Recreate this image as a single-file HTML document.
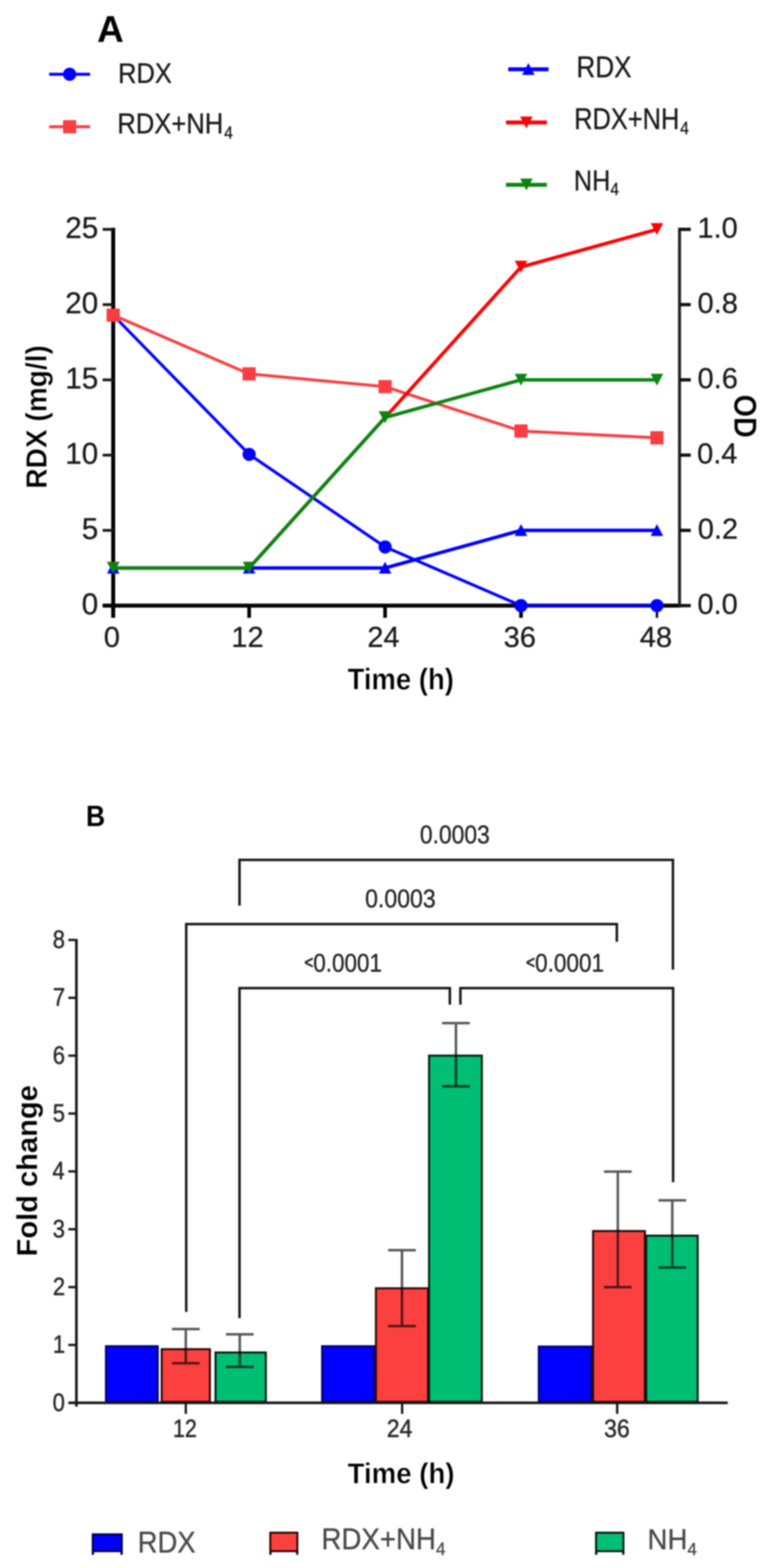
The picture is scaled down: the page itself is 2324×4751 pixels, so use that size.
<!DOCTYPE html>
<html lang="en"><head><meta charset="utf-8"><title>Figure: RDX degradation, OD and fold change</title>
<style>
html,body{margin:0;padding:0;background:#fff;}
body{width:2324px;height:4751px;overflow:hidden;}
svg{display:block;font-family:"Liberation Sans",Arial,Helvetica,sans-serif;filter:blur(2.2px);}
</style></head><body>
<svg width="2324" height="4751" viewBox="0 0 2324 4751">
<rect width="2324" height="4751" fill="#fff"/>
<text transform="translate(294.20 127.00) scale(0.9874 1)" font-size="113.37" font-weight="bold" fill="#000">A</text>
<line x1="149.0" y1="225.0" x2="273.0" y2="225.0" stroke="#0000ff" stroke-width="9.0" stroke-linecap="butt"/>
<circle cx="211.0" cy="225.0" r="20.0" fill="#0000ff"/>
<text transform="translate(357.63 251.00) scale(0.9004 1)" font-size="85.76" font-weight="normal" fill="#1a1a1a" stroke="#1a1a1a" stroke-width="0.9" stroke-linejoin="round">RDX</text>
<line x1="149.0" y1="384.0" x2="273.0" y2="384.0" stroke="#f83e42" stroke-width="9.0" stroke-linecap="butt"/>
<rect x="191.0" y="364.0" width="40.0" height="40.0" fill="#f83e42"/>
<text transform="translate(355.61 404.00) scale(0.8885 1)" font-size="87.21" font-weight="normal" fill="#1a1a1a" stroke="#1a1a1a" stroke-width="0.9" stroke-linejoin="round">RDX+NH<tspan font-size="54.1" dy="16.0" dx="3.0">4</tspan></text>
<line x1="1540.0" y1="210.0" x2="1662.0" y2="210.0" stroke="#0000ff" stroke-width="12.0" stroke-linecap="butt"/>
<polygon points="1601.0,191.0 1620.0,227.0 1582.0,227.0" fill="#0000ff"/>
<text transform="translate(1746.47 234.00) scale(0.8789 1)" font-size="90.12" font-weight="normal" fill="#1a1a1a" stroke="#1a1a1a" stroke-width="0.9" stroke-linejoin="round">RDX</text>
<line x1="1533.0" y1="371.0" x2="1657.0" y2="371.0" stroke="#ff0000" stroke-width="12.0" stroke-linecap="butt"/>
<polygon points="1576.0,353.0 1614.0,353.0 1595.0,389.0" fill="#ff0000"/>
<text transform="translate(1739.65 391.00) scale(0.8542 1)" font-size="90.12" font-weight="normal" fill="#1a1a1a" stroke="#1a1a1a" stroke-width="0.9" stroke-linejoin="round">RDX+NH<tspan font-size="55.9" dy="16.0" dx="3.0">4</tspan></text>
<line x1="1533.0" y1="560.0" x2="1657.0" y2="560.0" stroke="#0b8412" stroke-width="12.0" stroke-linecap="butt"/>
<polygon points="1576.0,541.0 1614.0,541.0 1595.0,577.0" fill="#0b8412"/>
<text transform="translate(1738.68 577.00) scale(0.8779 1)" font-size="87.21" font-weight="normal" fill="#1a1a1a" stroke="#1a1a1a" stroke-width="0.9" stroke-linejoin="round">NH<tspan font-size="54.1" dy="14.0" dx="0.0">4</tspan></text>
<line x1="343.0" y1="690.0" x2="343.0" y2="1872.0" stroke="#000" stroke-width="12.0" stroke-linecap="butt"/>
<line x1="311.0" y1="1835.0" x2="2062.0" y2="1835.0" stroke="#000" stroke-width="12.0" stroke-linecap="butt"/>
<line x1="311.0" y1="1607.0" x2="343.0" y2="1607.0" stroke="#1a1a1a" stroke-width="8.5" stroke-linecap="butt"/>
<line x1="311.0" y1="1379.0" x2="343.0" y2="1379.0" stroke="#1a1a1a" stroke-width="8.5" stroke-linecap="butt"/>
<line x1="311.0" y1="1151.0" x2="343.0" y2="1151.0" stroke="#1a1a1a" stroke-width="8.5" stroke-linecap="butt"/>
<line x1="311.0" y1="923.0" x2="343.0" y2="923.0" stroke="#1a1a1a" stroke-width="8.5" stroke-linecap="butt"/>
<line x1="311.0" y1="695.0" x2="343.0" y2="695.0" stroke="#1a1a1a" stroke-width="8.5" stroke-linecap="butt"/>
<line x1="754.9" y1="1835.0" x2="754.9" y2="1872.0" stroke="#000" stroke-width="11.0" stroke-linecap="butt"/>
<line x1="1166.8" y1="1835.0" x2="1166.8" y2="1872.0" stroke="#000" stroke-width="11.0" stroke-linecap="butt"/>
<line x1="1578.6" y1="1835.0" x2="1578.6" y2="1872.0" stroke="#000" stroke-width="11.0" stroke-linecap="butt"/>
<line x1="1990.5" y1="1835.0" x2="1990.5" y2="1872.0" stroke="#000" stroke-width="7.0" stroke-linecap="butt"/>
<line x1="2059.0" y1="690.0" x2="2059.0" y2="1841.0" stroke="#222" stroke-width="9.0" stroke-linecap="butt"/>
<line x1="2059.0" y1="1835.0" x2="2093.0" y2="1835.0" stroke="#111" stroke-width="10.0" stroke-linecap="butt"/>
<line x1="2059.0" y1="1607.0" x2="2093.0" y2="1607.0" stroke="#111" stroke-width="10.0" stroke-linecap="butt"/>
<line x1="2059.0" y1="1379.0" x2="2093.0" y2="1379.0" stroke="#111" stroke-width="10.0" stroke-linecap="butt"/>
<line x1="2059.0" y1="1151.0" x2="2093.0" y2="1151.0" stroke="#111" stroke-width="10.0" stroke-linecap="butt"/>
<line x1="2059.0" y1="923.0" x2="2093.0" y2="923.0" stroke="#111" stroke-width="10.0" stroke-linecap="butt"/>
<line x1="2059.0" y1="695.0" x2="2093.0" y2="695.0" stroke="#111" stroke-width="10.0" stroke-linecap="butt"/>
<polyline points="343.0,954.9 754.9,1376.7 1166.8,1657.2 1578.6,1835.0 1990.5,1835.0" fill="none" stroke="#0000ff" stroke-width="9.0" stroke-linejoin="round"/>
<circle cx="343.0" cy="954.9" r="20.0" fill="#0000ff"/>
<circle cx="754.9" cy="1376.7" r="20.0" fill="#0000ff"/>
<circle cx="1166.8" cy="1657.2" r="20.0" fill="#0000ff"/>
<circle cx="1578.6" cy="1835.0" r="20.0" fill="#0000ff"/>
<circle cx="1990.5" cy="1835.0" r="20.0" fill="#0000ff"/>
<polyline points="343.0,954.9 754.9,1132.8 1166.8,1171.5 1578.6,1306.0 1990.5,1326.6" fill="none" stroke="#f83e42" stroke-width="9.0" stroke-linejoin="round"/>
<rect x="323.0" y="934.9" width="40.0" height="40.0" fill="#f83e42"/>
<rect x="734.9" y="1112.8" width="40.0" height="40.0" fill="#f83e42"/>
<rect x="1146.8" y="1151.5" width="40.0" height="40.0" fill="#f83e42"/>
<rect x="1558.6" y="1286.0" width="40.0" height="40.0" fill="#f83e42"/>
<rect x="1970.5" y="1306.6" width="40.0" height="40.0" fill="#f83e42"/>
<polyline points="343.0,1721.0 754.9,1721.0 1166.8,1721.0 1578.6,1607.0 1990.5,1607.0" fill="none" stroke="#0000ff" stroke-width="10.5" stroke-linejoin="round"/>
<polygon points="343.0,1702.0 362.0,1738.0 324.0,1738.0" fill="#0000ff"/>
<polygon points="754.9,1702.0 773.9,1738.0 735.9,1738.0" fill="#0000ff"/>
<polygon points="1166.8,1702.0 1185.8,1738.0 1147.8,1738.0" fill="#0000ff"/>
<polygon points="1578.6,1588.0 1597.6,1624.0 1559.6,1624.0" fill="#0000ff"/>
<polygon points="1990.5,1588.0 2009.5,1624.0 1971.5,1624.0" fill="#0000ff"/>
<polyline points="343.0,1721.0 754.9,1721.0 1166.8,1265.0 1578.6,809.0 1990.5,695.0" fill="none" stroke="#ff0000" stroke-width="10.5" stroke-linejoin="round"/>
<polygon points="324.0,1702.0 362.0,1702.0 343.0,1738.0" fill="#ff0000"/>
<polygon points="735.9,1702.0 773.9,1702.0 754.9,1738.0" fill="#ff0000"/>
<polygon points="1147.8,1246.0 1185.8,1246.0 1166.8,1282.0" fill="#ff0000"/>
<polygon points="1559.6,790.0 1597.6,790.0 1578.6,826.0" fill="#ff0000"/>
<polygon points="1971.5,676.0 2009.5,676.0 1990.5,712.0" fill="#ff0000"/>
<polyline points="343.0,1721.0 754.9,1721.0 1166.8,1265.0 1578.6,1151.0 1990.5,1151.0" fill="none" stroke="#0b8412" stroke-width="10.5" stroke-linejoin="round"/>
<polygon points="324.0,1702.5 362.0,1702.5 343.0,1738.5" fill="#0b8412"/>
<polygon points="735.9,1702.5 773.9,1702.5 754.9,1738.5" fill="#0b8412"/>
<polygon points="1147.8,1246.5 1185.8,1246.5 1166.8,1282.5" fill="#0b8412"/>
<polygon points="1559.6,1132.5 1597.6,1132.5 1578.6,1168.5" fill="#0b8412"/>
<polygon points="1971.5,1132.5 2009.5,1132.5 1990.5,1168.5" fill="#0b8412"/>
<text transform="translate(247.43 1861.00) scale(1.0000 1)" font-size="90.00" fill="#1a1a1a" stroke="#1a1a1a" stroke-width="0.8" stroke-linejoin="round">0</text>
<text transform="translate(247.65 1633.00) scale(1.0000 1)" font-size="90.00" fill="#1a1a1a" stroke="#1a1a1a" stroke-width="0.8" stroke-linejoin="round">5</text>
<text transform="translate(197.47 1405.00) scale(1.0000 1)" font-size="90.00" fill="#1a1a1a" stroke="#1a1a1a" stroke-width="0.8" stroke-linejoin="round">10</text>
<text transform="translate(197.70 1177.00) scale(1.0000 1)" font-size="90.00" fill="#1a1a1a" stroke="#1a1a1a" stroke-width="0.8" stroke-linejoin="round">15</text>
<text transform="translate(197.48 949.00) scale(1.0000 1)" font-size="90.00" fill="#1a1a1a" stroke="#1a1a1a" stroke-width="0.8" stroke-linejoin="round">20</text>
<text transform="translate(197.70 721.00) scale(1.0000 1)" font-size="90.00" fill="#1a1a1a" stroke="#1a1a1a" stroke-width="0.8" stroke-linejoin="round">25</text>
<text transform="translate(314.51 1959.50) scale(1.0000 1)" font-size="87.86" fill="#1a1a1a" stroke="#1a1a1a" stroke-width="0.8" stroke-linejoin="round">0</text>
<text transform="translate(701.02 1959.50) scale(1.0000 1)" font-size="87.86" fill="#1a1a1a" stroke="#1a1a1a" stroke-width="0.8" stroke-linejoin="round">12</text>
<text transform="translate(1113.00 1959.50) scale(1.0000 1)" font-size="87.86" fill="#1a1a1a" stroke="#1a1a1a" stroke-width="0.8" stroke-linejoin="round">24</text>
<text transform="translate(1526.08 1959.50) scale(1.0000 1)" font-size="87.86" fill="#1a1a1a" stroke="#1a1a1a" stroke-width="0.8" stroke-linejoin="round">36</text>
<text transform="translate(1938.62 1959.50) scale(1.0000 1)" font-size="87.86" fill="#1a1a1a" stroke="#1a1a1a" stroke-width="0.8" stroke-linejoin="round">48</text>
<text transform="translate(2113.17 1859.50) scale(1.0000 1)" font-size="87.86" fill="#1a1a1a" stroke="#1a1a1a" stroke-width="0.8" stroke-linejoin="round">0.0</text>
<text transform="translate(2114.27 1631.50) scale(1.0000 1)" font-size="87.86" fill="#1a1a1a" stroke="#1a1a1a" stroke-width="0.8" stroke-linejoin="round">0.2</text>
<text transform="translate(2112.29 1403.50) scale(1.0000 1)" font-size="87.86" fill="#1a1a1a" stroke="#1a1a1a" stroke-width="0.8" stroke-linejoin="round">0.4</text>
<text transform="translate(2113.61 1175.50) scale(1.0000 1)" font-size="87.86" fill="#1a1a1a" stroke="#1a1a1a" stroke-width="0.8" stroke-linejoin="round">0.6</text>
<text transform="translate(2113.61 947.50) scale(1.0000 1)" font-size="87.86" fill="#1a1a1a" stroke="#1a1a1a" stroke-width="0.8" stroke-linejoin="round">0.8</text>
<text transform="translate(2113.17 719.50) scale(1.0000 1)" font-size="87.86" fill="#1a1a1a" stroke="#1a1a1a" stroke-width="0.8" stroke-linejoin="round">1.0</text>
<text transform="translate(1053.17 2089.00) scale(0.9233 1)" font-size="90.12" font-weight="bold" fill="#000" stroke="#fff" stroke-width="1.2">Time (h)</text>
<text transform="translate(141.00 1475.00) rotate(-90) scale(0.9601 1)" x="-5.98" font-size="88.66" font-weight="bold" fill="#000" stroke="#fff" stroke-width="1.2">RDX (mg/l)</text>
<text transform="translate(2225.00 1199.00) rotate(90) scale(0.9119 1)" x="-3.84" font-size="95.93" font-weight="bold" fill="#000" stroke="#fff" stroke-width="1.0">OD</text>
<text transform="translate(260.58 2503.00) scale(0.9060 1)" font-size="88.66" font-weight="bold" fill="#000">B</text>
<polyline points="725.7,2744.0 725.7,2605.5 2039.0,2605.5 2039.0,2938.0" fill="none" stroke="#161616" stroke-width="7.5" stroke-linejoin="miter"/>
<polyline points="564.3,3975.0 564.3,2800.0 1869.0,2800.0 1869.0,2853.5" fill="none" stroke="#161616" stroke-width="7.5" stroke-linejoin="miter"/>
<polyline points="725.7,3994.0 725.7,2994.0 1363.0,2994.0 1363.0,3044.0" fill="none" stroke="#161616" stroke-width="7.5" stroke-linejoin="miter"/>
<polyline points="1395.0,3044.0 1395.0,2994.0 2039.5,2994.0 2039.5,3582.0" fill="none" stroke="#161616" stroke-width="7.5" stroke-linejoin="miter"/>
<text transform="translate(1272.23 2555.00) scale(0.8822 1)" font-size="78.49" font-weight="normal" fill="#242424" stroke="#242424" stroke-width="1.0" stroke-linejoin="round">0.0003</text>
<text transform="translate(1106.20 2749.00) scale(0.8908 1)" font-size="78.49" font-weight="normal" fill="#242424" stroke="#242424" stroke-width="1.0" stroke-linejoin="round">0.0003</text>
<text transform="translate(922.27 2944.00) scale(0.8656 1)" font-size="78.57" fill="#242424" stroke="#242424" stroke-width="1" stroke-linejoin="round"><tspan font-size="53.43" dy="-10.2" stroke-width="2.2">&lt;</tspan><tspan dy="10.2">0.0001</tspan></text>
<text transform="translate(1594.12 2944.00) scale(0.8699 1)" font-size="78.57" fill="#242424" stroke="#242424" stroke-width="1" stroke-linejoin="round"><tspan font-size="53.43" dy="-10.2" stroke-width="2.2">&lt;</tspan><tspan dy="10.2">0.0001</tspan></text>
<rect x="321.0" y="4079.0" width="157.0" height="168.5" fill="#0000fe" stroke="#000070" stroke-width="6.0"/>
<rect x="490.0" y="4088.0" width="146.0" height="159.5" fill="#fc4040" stroke="#2a0606" stroke-width="6.0"/>
<rect x="653.0" y="4098.0" width="152.5" height="149.5" fill="#00be73" stroke="#04180f" stroke-width="6.0"/>
<rect x="976.0" y="4079.0" width="158.0" height="168.5" fill="#0000fe" stroke="#000070" stroke-width="6.0"/>
<rect x="1139.0" y="3903.5" width="158.0" height="344.0" fill="#fc4040" stroke="#2a0606" stroke-width="6.0"/>
<rect x="1300.0" y="3198.5" width="160.0" height="1049.0" fill="#00be73" stroke="#04180f" stroke-width="6.0"/>
<rect x="1632.5" y="4080.0" width="159.5" height="167.5" fill="#0000fe" stroke="#000070" stroke-width="6.0"/>
<rect x="1797.0" y="3730.0" width="157.0" height="517.5" fill="#fc4040" stroke="#2a0606" stroke-width="6.0"/>
<rect x="1958.0" y="3744.0" width="156.0" height="503.5" fill="#00be73" stroke="#04180f" stroke-width="6.0"/>
<line x1="231.5" y1="2845.0" x2="231.5" y2="4262.0" stroke="#161616" stroke-width="8.0" stroke-linecap="butt"/>
<line x1="208.0" y1="4250.5" x2="2205.0" y2="4250.5" stroke="#161616" stroke-width="8.0" stroke-linecap="butt"/>
<line x1="207.0" y1="4250.5" x2="231.5" y2="4250.5" stroke="#161616" stroke-width="7.0" stroke-linecap="butt"/>
<line x1="207.0" y1="4075.2" x2="231.5" y2="4075.2" stroke="#161616" stroke-width="7.0" stroke-linecap="butt"/>
<line x1="207.0" y1="3899.9" x2="231.5" y2="3899.9" stroke="#161616" stroke-width="7.0" stroke-linecap="butt"/>
<line x1="207.0" y1="3724.6" x2="231.5" y2="3724.6" stroke="#161616" stroke-width="7.0" stroke-linecap="butt"/>
<line x1="207.0" y1="3549.3" x2="231.5" y2="3549.3" stroke="#161616" stroke-width="7.0" stroke-linecap="butt"/>
<line x1="207.0" y1="3374.0" x2="231.5" y2="3374.0" stroke="#161616" stroke-width="7.0" stroke-linecap="butt"/>
<line x1="207.0" y1="3198.7" x2="231.5" y2="3198.7" stroke="#161616" stroke-width="7.0" stroke-linecap="butt"/>
<line x1="207.0" y1="3023.4" x2="231.5" y2="3023.4" stroke="#161616" stroke-width="7.0" stroke-linecap="butt"/>
<line x1="207.0" y1="2848.1" x2="231.5" y2="2848.1" stroke="#161616" stroke-width="7.0" stroke-linecap="butt"/>
<line x1="563.0" y1="4250.5" x2="563.0" y2="4284.0" stroke="#161616" stroke-width="7.0" stroke-linecap="butt"/>
<line x1="1218.5" y1="4250.5" x2="1218.5" y2="4284.0" stroke="#161616" stroke-width="7.0" stroke-linecap="butt"/>
<line x1="1870.0" y1="4250.5" x2="1870.0" y2="4284.0" stroke="#161616" stroke-width="7.0" stroke-linecap="butt"/>
<g stroke="#000" stroke-width="7.5" opacity="0.66"><line x1="563.0" y1="4027.0" x2="563.0" y2="4130.5"/><line x1="521.0" y1="4027.0" x2="605.0" y2="4027.0"/><line x1="521.0" y1="4130.5" x2="605.0" y2="4130.5"/></g>
<g stroke="#000" stroke-width="7.5" opacity="0.66"><line x1="726.5" y1="4043.0" x2="726.5" y2="4141.5"/><line x1="684.5" y1="4043.0" x2="768.5" y2="4043.0"/><line x1="684.5" y1="4141.5" x2="768.5" y2="4141.5"/></g>
<g stroke="#000" stroke-width="7.5" opacity="0.66"><line x1="1218.0" y1="3788.0" x2="1218.0" y2="4018.0"/><line x1="1176.0" y1="3788.0" x2="1260.0" y2="3788.0"/><line x1="1176.0" y1="4018.0" x2="1260.0" y2="4018.0"/></g>
<g stroke="#000" stroke-width="7.5" opacity="0.66"><line x1="1381.5" y1="3100.0" x2="1381.5" y2="3291.5"/><line x1="1339.5" y1="3100.0" x2="1423.5" y2="3100.0"/><line x1="1339.5" y1="3291.5" x2="1423.5" y2="3291.5"/></g>
<g stroke="#000" stroke-width="7.5" opacity="0.66"><line x1="1872.0" y1="3550.0" x2="1872.0" y2="3900.0"/><line x1="1830.0" y1="3550.0" x2="1914.0" y2="3550.0"/><line x1="1830.0" y1="3900.0" x2="1914.0" y2="3900.0"/></g>
<g stroke="#000" stroke-width="7.5" opacity="0.66"><line x1="2037.0" y1="3637.0" x2="2037.0" y2="3840.5"/><line x1="1995.0" y1="3637.0" x2="2079.0" y2="3637.0"/><line x1="1995.0" y1="3840.5" x2="2079.0" y2="3840.5"/></g>
<text transform="translate(159.52 4274.50) scale(0.8800 1)" font-size="75.71" fill="#2a2a2a" stroke="#2a2a2a" stroke-width="1.4" stroke-linejoin="round">0</text>
<text transform="translate(160.19 4099.20) scale(0.8800 1)" font-size="75.71" fill="#2a2a2a" stroke="#2a2a2a" stroke-width="1.4" stroke-linejoin="round">1</text>
<text transform="translate(160.35 3923.90) scale(0.8800 1)" font-size="75.71" fill="#2a2a2a" stroke="#2a2a2a" stroke-width="1.4" stroke-linejoin="round">2</text>
<text transform="translate(159.85 3748.60) scale(0.8800 1)" font-size="75.71" fill="#2a2a2a" stroke="#2a2a2a" stroke-width="1.4" stroke-linejoin="round">3</text>
<text transform="translate(158.85 3573.30) scale(0.8800 1)" font-size="75.71" fill="#2a2a2a" stroke="#2a2a2a" stroke-width="1.4" stroke-linejoin="round">4</text>
<text transform="translate(159.69 3398.00) scale(0.8800 1)" font-size="75.71" fill="#2a2a2a" stroke="#2a2a2a" stroke-width="1.4" stroke-linejoin="round">5</text>
<text transform="translate(159.85 3222.70) scale(0.8800 1)" font-size="75.71" fill="#2a2a2a" stroke="#2a2a2a" stroke-width="1.4" stroke-linejoin="round">6</text>
<text transform="translate(160.35 3047.40) scale(0.8800 1)" font-size="75.71" fill="#2a2a2a" stroke="#2a2a2a" stroke-width="1.4" stroke-linejoin="round">7</text>
<text transform="translate(159.85 2872.10) scale(0.8800 1)" font-size="75.71" fill="#2a2a2a" stroke="#2a2a2a" stroke-width="1.4" stroke-linejoin="round">8</text>
<text transform="translate(524.05 4354.00) scale(0.8600 1)" font-size="75.71" fill="#2a2a2a" stroke="#2a2a2a" stroke-width="1.4" stroke-linejoin="round">12</text>
<text transform="translate(1172.06 4354.00) scale(0.9200 1)" font-size="75.71" fill="#2a2a2a" stroke="#2a2a2a" stroke-width="1.4" stroke-linejoin="round">24</text>
<text transform="translate(1830.51 4354.00) scale(0.9200 1)" font-size="75.71" fill="#2a2a2a" stroke="#2a2a2a" stroke-width="1.4" stroke-linejoin="round">36</text>
<text transform="translate(1053.16 4494.00) scale(0.9601 1)" font-size="87.21" font-weight="bold" fill="#000" stroke="#fff" stroke-width="1.2">Time (h)</text>
<text transform="translate(111.50 3801.00) rotate(-90) scale(1.0105 1)" x="-5.89" font-size="87.21" font-weight="bold" fill="#000" stroke="#fff" stroke-width="0.6">Fold change</text>
<rect x="281.0" y="4649.0" width="88.0" height="51.0" fill="#0000fe" stroke="#00004a" stroke-width="6.0"/>
<rect x="278.0" y="4701.0" width="7.0" height="10.0" fill="#00004a"/>
<rect x="365.0" y="4701.0" width="7.0" height="10.0" fill="#00004a"/>
<rect x="819.0" y="4644.0" width="82.0" height="56.0" fill="#fc4040" stroke="#2a0606" stroke-width="6.0"/>
<rect x="816.0" y="4701.0" width="7.0" height="10.0" fill="#2a0606"/>
<rect x="897.0" y="4701.0" width="7.0" height="10.0" fill="#2a0606"/>
<rect x="1806.0" y="4644.0" width="83.0" height="56.0" fill="#00be73" stroke="#04180f" stroke-width="6.0"/>
<rect x="1803.0" y="4701.0" width="7.0" height="10.0" fill="#04180f"/>
<rect x="1885.0" y="4701.0" width="7.0" height="10.0" fill="#04180f"/>
<text transform="translate(417.14 4704.00) scale(0.9231 1)" font-size="90.12" font-weight="normal" fill="#484848" stroke="#484848" stroke-width="0.9" stroke-linejoin="round">RDX</text>
<text transform="translate(974.09 4694.00) scale(0.9296 1)" font-size="90.12" font-weight="normal" fill="#484848" stroke="#484848" stroke-width="0.9" stroke-linejoin="round">RDX+NH<tspan font-size="55.9" dy="18.0" dx="0.0">4</tspan></text>
<text transform="translate(1962.10 4694.00) scale(0.9585 1)" font-size="87.21" font-weight="normal" fill="#484848" stroke="#484848" stroke-width="0.9" stroke-linejoin="round">NH<tspan font-size="54.1" dy="18.0" dx="0.0">4</tspan></text>
</svg>
</body></html>
